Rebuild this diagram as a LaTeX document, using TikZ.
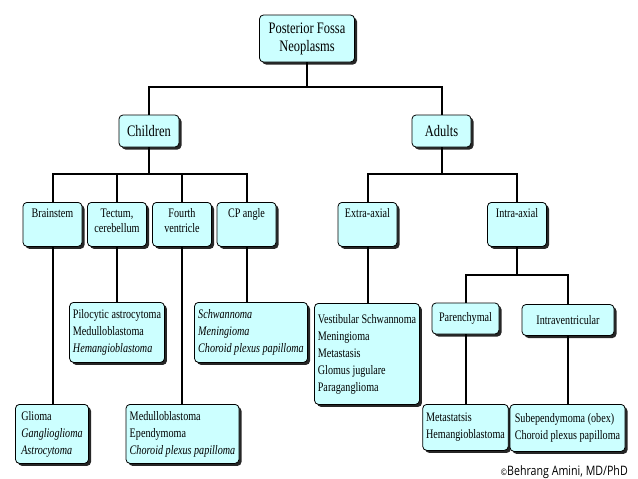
\documentclass[tikz,border=0pt]{standalone}
\usepackage{fontspec}
\setmainfont{Liberation Serif}[FakeStretch=0.78]
\newfontfamily\creditfont{Open Sans}[FakeStretch=0.82]
\usetikzlibrary{shadows}
\definecolor{boxcyan}{RGB}{204,255,255}
\newcommand{\sitetext}[1]{\parbox[c][34pt][t]{53pt}{\centering\strut #1}}
\tikzset{
  box/.style={draw=black, line width=0.8pt, fill=boxcyan, rounded corners=4pt,
    drop shadow={shadow xshift=2.5pt, shadow yshift=-2.5pt, fill=black, opacity=0.85}},
  topbox/.style={box, font=\fontsize{16}{18}\selectfont, align=center},
  sitebox/.style={box, font=\fontsize{13}{15}\selectfont, inner xsep=3pt, inner ysep=5pt,
    minimum width=59pt, minimum height=44pt, anchor=north},
  listbox/.style={box, font=\fontsize{13}{17}\selectfont, align=left, anchor=north},
  link/.style={line width=2pt, black},
}
\begin{document}
\begin{tikzpicture}[x=1pt, y=-1pt]
\useasboundingbox (0,0) rectangle (638,479);
% top levels
\node[topbox, minimum width=95pt, minimum height=47pt] (root) at (307,38.5) {Posterior Fossa\\Neoplasms};
\node[topbox, minimum width=60pt, minimum height=32pt] (children) at (149,131) {Children};
\node[topbox, minimum width=59pt, minimum height=32pt] (adults) at (441.5,131) {Adults};
% sites
\node[sitebox] (brainstem) at (52.5,202) {\sitetext{Brainstem}};
\node[sitebox] (tectum) at (117,202) {\sitetext{Tectum,\\cerebellum}};
\node[sitebox] (fourth) at (182,202) {\sitetext{Fourth\\ventricle}};
\node[sitebox] (cpangle) at (246.5,202) {\sitetext{CP angle}};
\node[sitebox] (extra) at (367.5,202) {\sitetext{Extra-axial}};
\node[sitebox] (intra) at (517,202) {\sitetext{Intra-axial}};
\node[topbox, font=\fontsize{13}{15}\selectfont, minimum width=67pt, minimum height=31pt] (parench) at (465.5,318.5) {Parenchymal};
\node[topbox, font=\fontsize{13}{15}\selectfont, minimum width=92pt, minimum height=31pt] (intravent) at (568,320) {Intraventricular};
% tumour lists
\node[listbox, minimum width=93pt, minimum height=60pt] (tectumlist) at (117,302) {Pilocytic astrocytoma\\Medulloblastoma\\\textit{Hemangioblastoma}};
\node[listbox, minimum width=113pt, minimum height=60pt] (cplist) at (251,302) {\textit{Schwannoma}\\\textit{Meningioma}\\\textit{Choroid plexus papilloma}};
\node[listbox, minimum width=102pt, minimum height=101pt] (extralist) at (367,303) {Vestibular Schwannoma\\Meningioma\\Metastasis\\Glomus jugulare\\Paraganglioma};
\node[listbox, minimum width=73pt, minimum height=59pt] (brainlist) at (52,404) {Glioma\\\textit{Ganglioglioma}\\\textit{Astrocytoma}};
\node[listbox, minimum width=113pt, minimum height=59pt] (fourthlist) at (182.5,404) {Medulloblastoma\\Ependymoma\\\textit{Choroid plexus papilloma}};
\node[listbox, minimum width=85pt, minimum height=46pt] (parenchlist) at (465.5,404) {Metastatsis\\Hemangioblastoma};
\node[listbox, minimum width=115pt, minimum height=47pt] (ventlist) at (567.5,404) {Subependymoma (obex)\\Choroid plexus papilloma};
\node[anchor=east, font=\creditfont\fontsize{13}{15}\selectfont, inner sep=0pt] (credit) at (628,472) {{\fontsize{9}{9}\selectfont\textcopyright}Behrang Amini, MD/PhD};
% connectors
\coordinate (bus1) at (0,87);
\coordinate (bus2) at (0,174);
\coordinate (bus3) at (0,275);
\draw[link] (root.south) -- (root.south |- bus1);
\draw[link] (children.north) |- (adults.north |- bus1) -- (adults.north);
\draw[link] (children.south) -- (children.south |- bus2);
\draw[link] (brainstem.north) |- (cpangle.north |- bus2) -- (cpangle.north);
\draw[link] (tectum.north) -- (tectum.north |- bus2);
\draw[link] (fourth.north) -- (fourth.north |- bus2);
\draw[link] (adults.south) -- (adults.south |- bus2);
\draw[link] (extra.north) |- (intra.north |- bus2) -- (intra.north);
\draw[link] (intra.south) -- (intra.south |- bus3);
\draw[link] (parench.north) |- (intravent.north |- bus3) -- (intravent.north);
\draw[link] (brainstem.south) -- (brainstem.south |- brainlist.north);
\draw[link] (tectum.south) -- (tectum.south |- tectumlist.north);
\draw[link] (fourth.south) -- (fourth.south |- fourthlist.north);
\draw[link] (cpangle.south) -- (cpangle.south |- cplist.north);
\draw[link] (extra.south) -- (extra.south |- extralist.north);
\draw[link] (parench.south) -- (parench.south |- parenchlist.north);
\draw[link] (intravent.south) -- (intravent.south |- ventlist.north);
\end{tikzpicture}
\end{document}
